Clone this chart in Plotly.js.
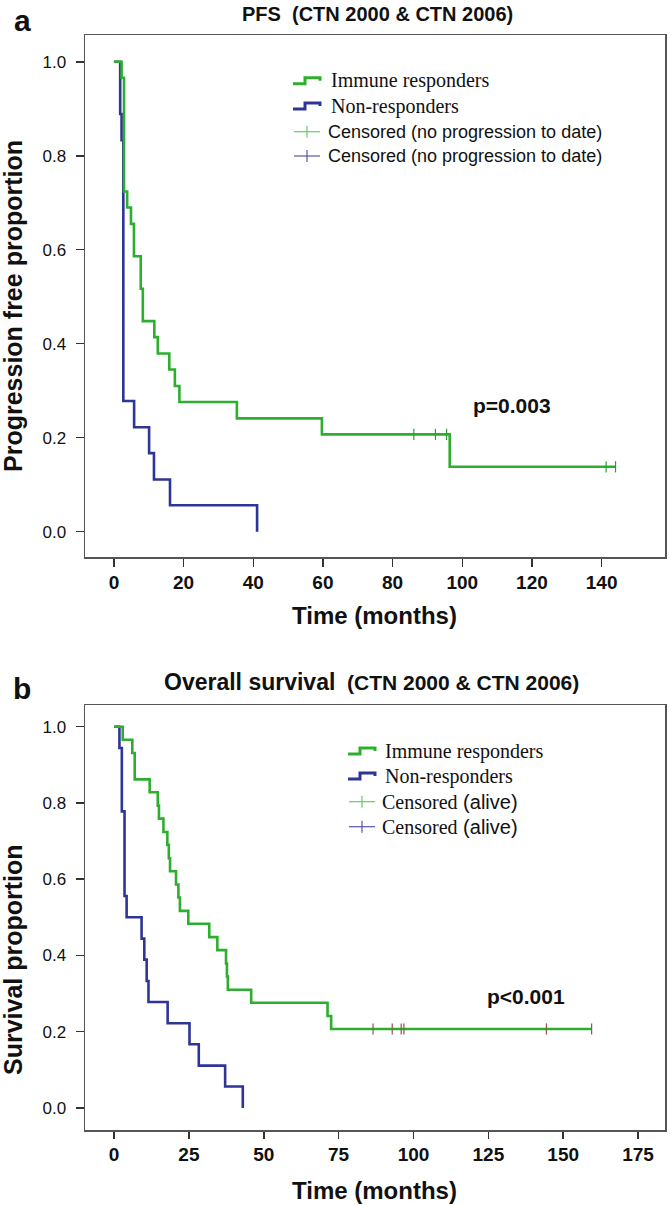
<!DOCTYPE html>
<html>
<head>
<meta charset="utf-8">
<script src="https://cdn.plot.ly/plotly-3.0.1.min.js"></script>
<style>html,body{margin:0;padding:0;background:#fff;}#chart{width:670px;height:1205px;}</style>
</head>
<body>
<div id="chart"></div>
<script>
// ---- Data ----
// Panel a: progression-free survival
const pfsRespTime = [0, 2.2, 2.9, 3.8, 4.9, 5.75, 7.7, 8.3, 11.6, 12.6, 15.9, 17.5, 18.8, 35.3, 59.7, 96.4, 144.0];
const pfsRespSurv = [1.0, 0.966, 0.724, 0.690, 0.655, 0.586, 0.517, 0.448, 0.414, 0.379, 0.345, 0.310, 0.276, 0.241, 0.207, 0.138, 0.138];
const pfsRespCensTime = [86.1, 92.3, 95.5, 141.3, 144.0];
const pfsRespCensSurv = [0.207, 0.207, 0.207, 0.138, 0.138];
const pfsNonTime = [0, 1.8, 2.2, 2.7, 5.8, 10.1, 11.5, 16.1, 41.1];
const pfsNonSurv = [1.0, 0.889, 0.833, 0.278, 0.222, 0.167, 0.111, 0.056, 0.0];

// Panel b: overall survival
const osRespTime = [0, 2.9, 6.1, 6.9, 11.9, 14.6, 15.0, 16.5, 17.8, 18.3, 18.7, 20.7, 21.5, 22.0, 24.8, 31.8, 34.5, 37.4, 37.7, 38.0, 45.8, 71.3, 72.5, 159.5];
const osRespSurv = [1.0, 0.966, 0.931, 0.862, 0.828, 0.793, 0.759, 0.724, 0.690, 0.655, 0.621, 0.586, 0.552, 0.517, 0.483, 0.448, 0.414, 0.379, 0.345, 0.310, 0.276, 0.241, 0.207, 0.207];
const osRespCensTime = [86.5, 92.9, 95.9, 96.8, 144.4, 159.5];
const osRespCensSurv = [0.207, 0.207, 0.207, 0.207, 0.207, 0.207];
const osNonTime = [0, 1.8, 2.6, 3.5, 4.2, 9.2, 10.1, 10.9, 11.5, 17.9, 25.2, 28.3, 37.1, 43.0];
const osNonSurv = [1.0, 0.944, 0.778, 0.556, 0.5, 0.444, 0.389, 0.333, 0.278, 0.222, 0.167, 0.111, 0.056, 0.0];

const pfsTicks = [0, 20, 40, 60, 80, 100, 120, 140];
const osTicks = [0, 25, 50, 75, 100, 125, 150, 175];
const yTicks = [0, 0.2, 0.4, 0.6, 0.8, 1.0];
const yTickText = ['0.0', '0.2', '0.4', '0.6', '0.8', '1.0'];

const legendA = ['Immune responders', 'Non-responders', 'Censored (no progression to date)', 'Censored (no progression to date)'];
const legendB = ['Immune responders', 'Non-responders', 'Censored (alive)', 'Censored (alive)'];

// ---- Styles ----
const GREEN = '#2eae2e';
const BLUE = '#2f3596';
const CENS_GREEN = '#66cc66';
const CENS_BLUE = '#5555a8';
const W = 670, H = 1205;
const X = px => px / W;
const Y = py => 1 - py / H;
const SANS = 'Liberation Sans, Arial, sans-serif';
const SERIF = 'Liberation Serif, Times New Roman, serif';

function stepTrace(x, y, color, xa, ya) {
  return {x: x, y: y, xaxis: xa, yaxis: ya, type: 'scatter', mode: 'lines',
    line: {shape: 'hv', color: color, width: 2.6}, hoverinfo: 'skip'};
}
function censTrace(x, y, color, xa, ya) {
  return {x: x, y: y, xaxis: xa, yaxis: ya, type: 'scatter', mode: 'markers',
    marker: {symbol: 'line-ns-open', size: 8, line: {color: color, width: 1.2}}, hoverinfo: 'skip'};
}

const data = [
  stepTrace(pfsNonTime, pfsNonSurv, BLUE, 'x', 'y'),
  stepTrace(pfsRespTime, pfsRespSurv, GREEN, 'x', 'y'),
  censTrace(pfsRespCensTime, pfsRespCensSurv, CENS_GREEN, 'x', 'y'),
  stepTrace(osNonTime, osNonSurv, BLUE, 'x2', 'y2'),
  stepTrace(osRespTime, osRespSurv, GREEN, 'x2', 'y2'),
  censTrace(osRespCensTime, osRespCensSurv, CENS_GREEN, 'x2', 'y2')
];

const axisCommon = {
  showline: true, linecolor: '#555', linewidth: 1.5, mirror: true,
  ticks: 'outside', tickcolor: '#333', tickwidth: 1.5,
  showgrid: false, zeroline: false, fixedrange: true
};
const xTickFont = {family: SANS, size: 19, color: '#111', weight: 'bold'};
const yTickFont = {family: SANS, size: 17, color: '#111'};

const layout = {
  width: W, height: H,
  margin: {l: 0, r: 0, t: 0, b: 0},
  paper_bgcolor: '#fff', plot_bgcolor: '#fff',
  showlegend: false,
  xaxis: Object.assign({}, axisCommon, {domain: [X(85), X(665)], anchor: 'y', range: [-8.3, 158.2],
    tickmode: 'array', tickvals: pfsTicks, ticklen: 8, tickfont: xTickFont}),
  yaxis: Object.assign({}, axisCommon, {domain: [Y(557), Y(35)], anchor: 'x', range: [-0.054, 1.057],
    tickmode: 'array', tickvals: yTicks, ticktext: yTickText, ticklen: 8, tickfont: yTickFont, ticklabelstandoff: 6}),
  xaxis2: Object.assign({}, axisCommon, {domain: [X(85), X(665)], anchor: 'y2', range: [-9.7, 184.0],
    tickmode: 'array', tickvals: osTicks, ticklen: 7, tickfont: xTickFont}),
  yaxis2: Object.assign({}, axisCommon, {domain: [Y(1130), Y(705)], anchor: 'x2', range: [-0.058, 1.057],
    tickmode: 'array', tickvals: yTicks, ticktext: yTickText, ticklen: 8, tickfont: yTickFont, ticklabelstandoff: 6}),
  annotations: [],
  shapes: []
};

function ann(text, px, py, opts) {
  layout.annotations.push(Object.assign({
    text: text, x: X(px), y: Y(py), xref: 'paper', yref: 'paper',
    showarrow: false, xanchor: 'center', yanchor: 'middle',
    font: {family: SANS, size: 18, color: '#111'}
  }, opts || {}));
}

// Panel letters and titles
ann('a', 22, 20, {font: {family: SANS, size: 30, color: '#111', weight: 'bold'}});
ann('b', 22, 688, {font: {family: SANS, size: 30, color: '#111', weight: 'bold'}});
ann('PFS&nbsp; (CTN 2000 &amp; CTN 2006)', 377, 14, {font: {family: SANS, size: 20, color: '#111', weight: 'bold'}});
ann('<span style="font-size:23px">Overall survival</span>&nbsp; <span style="font-size:21px">(CTN 2000 &amp; CTN 2006)</span>', 371, 682,
  {font: {family: SANS, size: 21, color: '#111', weight: 'bold'}});

// Axis titles
ann('Time (months)', 375, 615, {font: {family: SANS, size: 24, color: '#111', weight: 'bold'}});
ann('Time (months)', 375, 1190, {font: {family: SANS, size: 24, color: '#111', weight: 'bold'}});
ann('Progression free proportion', 13, 306, {textangle: -90, font: {family: SANS, size: 25, color: '#111', weight: 'bold'}});
ann('Survival proportion', 13, 960, {textangle: -90, font: {family: SANS, size: 25, color: '#111', weight: 'bold'}});

// p-values
ann('p=0.003', 512, 405, {font: {family: SANS, size: 21, color: '#111', weight: 'bold'}});
ann('p<0.001', 526, 997, {font: {family: SANS, size: 21, color: '#111', weight: 'bold'}});

// Legends
function stepIcon(x0, yc, color) {
  const p = [[x0, yc + 3], [x0 + 12, yc + 3], [x0 + 12, yc - 3], [x0 + 27, yc - 3], [x0 + 27, yc]];
  const d = 'M ' + p.map(q => X(q[0]) + ',' + Y(q[1])).join(' L ');
  layout.shapes.push({type: 'path', path: d, xref: 'paper', yref: 'paper', line: {color: color, width: 3}});
}
function plusIcon(x0, yc, color) {
  layout.shapes.push({type: 'line', xref: 'paper', yref: 'paper', x0: X(x0), x1: X(x0 + 26), y0: Y(yc), y1: Y(yc), line: {color: color, width: 1.2}});
  layout.shapes.push({type: 'line', xref: 'paper', yref: 'paper', x0: X(x0 + 13), x1: X(x0 + 13), y0: Y(yc - 6), y1: Y(yc + 6), line: {color: color, width: 1.2}});
}
function legendBlock(labels, iconX, textX, ys, mixed) {
  stepIcon(iconX, ys[0], GREEN);
  stepIcon(iconX, ys[1], BLUE);
  plusIcon(iconX + 1, ys[2], CENS_GREEN);
  plusIcon(iconX + 1, ys[3], CENS_BLUE);
  ann(labels[0], textX, ys[0], {xanchor: 'left', font: {family: SERIF, size: 20, color: '#111'}});
  ann(labels[1], textX, ys[1], {xanchor: 'left', font: {family: SERIF, size: 20, color: '#111'}});
  for (let i = 2; i < 4; i++) {
    let t = labels[i];
    if (mixed) {
      const k = t.indexOf(' ');
      t = '<span style="font-family:\'Liberation Serif\'">' + t.slice(0, k) + '</span> <span style="font-family:\'Liberation Sans\'">' + t.slice(k + 1) + '</span>';
    }
    ann(t, textX - 3, ys[i], {xanchor: 'left', font: {family: SANS, size: mixed ? 20 : 18, color: '#111'}});
  }
}
legendBlock(legendA, 293, 329, [80.7, 106, 131.7, 156], false);
legendBlock(legendB, 348, 383, [751, 776, 801.7, 826.7], true);

Plotly.newPlot('chart', data, layout, {staticPlot: true, displayModeBar: false});
</script>
</body>
</html>
